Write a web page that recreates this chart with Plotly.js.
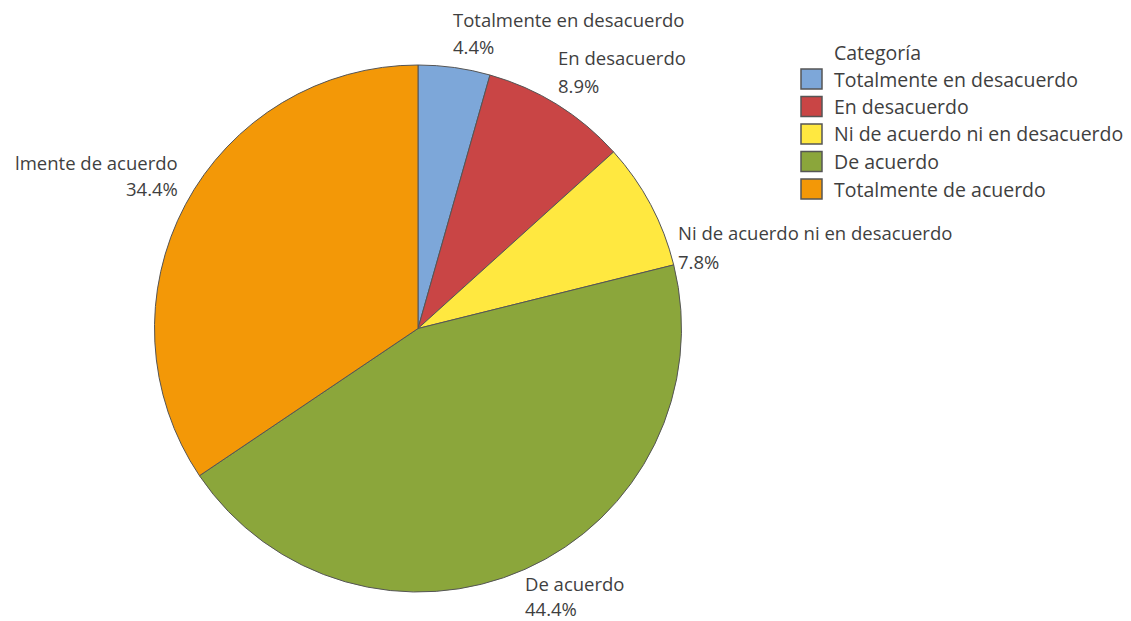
<!DOCTYPE html>
<html>
<head>
<meta charset="utf-8">
<script src="https://cdn.plot.ly/plotly-3.0.1.min.js"></script>
<style>html,body{margin:0;padding:0;background:#fff;}#chart{width:1131px;height:621px;}</style>
</head>
<body>
<div id="chart"></div>
<script>
const categories = ["Totalmente en desacuerdo", "En desacuerdo", "Ni de acuerdo ni en desacuerdo", "De acuerdo", "Totalmente de acuerdo"];
const values = [4.4, 8.9, 7.8, 44.4, 34.4];
const sliceLabels = ["Totalmente en desacuerdo", "En desacuerdo", "Ni de acuerdo ni en desacuerdo", "De acuerdo", "lmente de acuerdo"];
const colors = ["#7DA7D9", "#C94545", "#FFE840", "#8BA63B", "#F39807"];
const legendTitle = "Categoría";

const W = 1131, H = 621;
const px = x => x / W;
const py = y => 1 - y / H;
const FONT = "Open Sans, Noto Sans, sans-serif";
const TXT = "#3f3f3f";
const LBL = 18.5, LEG = 19.5;

// label anchor positions (pixels): [x, nameY, pctY, align]
const labelPos = [
  [452, 19, 46, "left"],
  [557, 58, 86, "left"],
  [677, 232, 261, "left"],
  [524, 583, 608, "left"],
  [179, 162, 188, "right"]
];

const annotations = [];
const shapes = [];
labelPos.forEach((p, i) => {
  annotations.push({xref:"paper", yref:"paper", x:px(p[0]), y:py(p[1]), xanchor:p[3], yanchor:"middle",
    text:sliceLabels[i], showarrow:false, font:{family:FONT, size:LBL, color:TXT}, borderpad:0});
  annotations.push({xref:"paper", yref:"paper", x:px(p[0]), y:py(p[2]), xanchor:p[3], yanchor:"middle",
    text:values[i].toFixed(1) + "%", showarrow:false, font:{family:FONT, size:LBL, color:TXT}, borderpad:0});
});

// legend
annotations.push({xref:"paper", yref:"paper", x:px(833), y:py(52), xanchor:"left", yanchor:"middle",
  text:legendTitle, showarrow:false, font:{family:FONT, size:LEG, color:TXT}, borderpad:0});
categories.forEach((c, i) => {
  const cy = 79 + i * 27.5;
  shapes.push({type:"rect", xref:"paper", yref:"paper", x0:px(801), x1:px(822), y0:py(cy - 10), y1:py(cy + 10),
    fillcolor:colors[i], line:{color:"#555", width:1.5}});
  annotations.push({xref:"paper", yref:"paper", x:px(833), y:py(cy), xanchor:"left", yanchor:"middle",
    text:c, showarrow:false, font:{family:FONT, size:LEG, color:TXT}, borderpad:0});
});

const data = [{
  type:"pie",
  labels:categories,
  values:values,
  sort:false,
  direction:"clockwise",
  rotation:0,
  textinfo:"none",
  marker:{colors:colors, line:{color:"#555555", width:1}},
  domain:{x:[px(153), px(683)], y:[py(592), py(65)]},
  showlegend:false
}];

const layout = {
  width:W, height:H,
  margin:{l:0, r:0, t:0, b:0},
  paper_bgcolor:"#fff",
  showlegend:false,
  annotations:annotations,
  shapes:shapes,
  font:{family:FONT}
};

Plotly.newPlot("chart", data, layout, {displayModeBar:false, staticPlot:true});
</script>
</body>
</html>
